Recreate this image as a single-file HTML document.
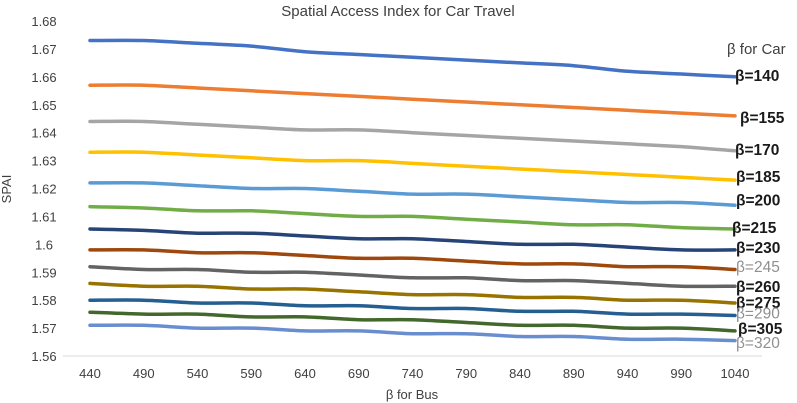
<!DOCTYPE html>
<html><head><meta charset="utf-8"><style>
html,body{margin:0;padding:0;background:#fff;}
svg{display:block;font-family:"Liberation Sans",sans-serif;}
</style></head><body>
<svg id="chart" width="797" height="403">
<text x="398" y="16" text-anchor="middle" font-size="15" fill="#404040">Spatial Access Index for Car Travel</text>
<text transform="translate(11,189) rotate(-90)" text-anchor="middle" font-size="13" fill="#404040">SPAI</text>
<text x="412" y="399" text-anchor="middle" font-size="13" fill="#404040">β for Bus</text>
<text x="727" y="54" font-size="15" fill="#404040">β for Car</text>
<g id="plot"></g>
</svg>
<script>
const categories=[440,490,540,590,640,690,740,790,840,890,940,990,1040];
const yTicks=[1.56,1.57,1.58,1.59,1.6,1.61,1.62,1.63,1.64,1.65,1.66,1.67,1.68];
const seriesNames=["β=140","β=155","β=170","β=185","β=200","β=215","β=230","β=245","β=260","β=275","β=290","β=305","β=320"];
const s140=[1.673,1.673,1.672,1.671,1.669,1.668,1.667,1.666,1.665,1.664,1.662,1.661,1.660];
const s155=[1.657,1.657,1.656,1.655,1.654,1.653,1.652,1.651,1.650,1.649,1.648,1.647,1.646];
const s170=[1.644,1.644,1.643,1.642,1.641,1.641,1.640,1.639,1.638,1.637,1.636,1.635,1.6335];
const s185=[1.633,1.633,1.632,1.631,1.630,1.630,1.629,1.628,1.627,1.626,1.625,1.624,1.623];
const s200=[1.622,1.622,1.621,1.620,1.620,1.619,1.618,1.618,1.617,1.616,1.615,1.615,1.614];
const s215=[1.6135,1.613,1.612,1.612,1.611,1.610,1.610,1.609,1.608,1.607,1.607,1.606,1.6055];
const s230=[1.6055,1.605,1.604,1.604,1.603,1.602,1.602,1.601,1.600,1.600,1.599,1.598,1.598];
const s245=[1.598,1.598,1.597,1.597,1.596,1.595,1.595,1.594,1.593,1.593,1.592,1.592,1.591];
const s260=[1.592,1.591,1.591,1.590,1.590,1.589,1.588,1.588,1.587,1.587,1.586,1.585,1.585];
const s275=[1.586,1.585,1.585,1.584,1.584,1.583,1.582,1.582,1.581,1.581,1.580,1.580,1.579];
const s290=[1.580,1.580,1.579,1.579,1.578,1.578,1.577,1.577,1.576,1.576,1.575,1.575,1.5745];
const s305=[1.5757,1.575,1.575,1.574,1.574,1.573,1.573,1.572,1.571,1.571,1.570,1.570,1.569];
const s320=[1.571,1.571,1.570,1.570,1.569,1.569,1.568,1.568,1.567,1.567,1.566,1.566,1.5655];
const allSeries=[s140,s155,s170,s185,s200,s215,s230,s245,s260,s275,s290,s305,s320];
const colors=["#4472C4","#ED7D31","#A5A5A5","#FFC000","#5B9BD5","#70AD47","#264478","#9E480E","#636363","#997300","#255E91","#43682B","#698ED0"];
const labelDy=[-2,1,-2,-4,-6,-2,-3,-3.5,0,-1,-3,-3,1.5];
const labelDx=[0,5,0,1,1,-3,1,1,1,1,1,3,1];
const boldLabel=[1,1,1,1,1,1,1,0,1,1,0,1,0];
const NS="http://www.w3.org/2000/svg";
const g=document.getElementById('plot');
const x0=90,x1=735,yTop=21,yBot=356,ymin=1.56,ymax=1.68;
function xs(i){return x0+(x1-x0)*i/(categories.length-1);}
function ys(v){return yBot-(v-ymin)/(ymax-ymin)*(yBot-yTop);}
function mk(t,a){const e=document.createElementNS(NS,t);for(const k in a)e.setAttribute(k,a[k]);g.appendChild(e);return e;}
function smooth(pts){let d='M'+pts[0][0].toFixed(1)+','+pts[0][1].toFixed(1);
 for(let i=0;i<pts.length-1;i++){const p0=pts[Math.max(0,i-1)],p1=pts[i],p2=pts[i+1],p3=pts[Math.min(pts.length-1,i+2)];
  const c1=[p1[0]+(p2[0]-p0[0])/6,p1[1]+(p2[1]-p0[1])/6],c2=[p2[0]-(p3[0]-p1[0])/6,p2[1]-(p3[1]-p1[1])/6];
  d+='C'+c1[0].toFixed(1)+','+c1[1].toFixed(1)+' '+c2[0].toFixed(1)+','+c2[1].toFixed(1)+' '+p2[0].toFixed(1)+','+p2[1].toFixed(1);}
 return d;}
const ax=mk('line',{x1:63,x2:762,y1:yBot,y2:yBot,stroke:'#d9d9d9','stroke-width':1});


yTicks.forEach(v=>{const t=mk('text',{x:44,y:ys(v)+5,'text-anchor':'middle','font-size':13,fill:'#404040'});t.textContent=String(v);

});
categories.forEach((c,i)=>{const t=mk('text',{x:xs(i),y:378,'text-anchor':'middle','font-size':13,fill:'#404040'});t.textContent=c;

});
allSeries.forEach((s,k)=>{
 const pts=s.map((v,i)=>[xs(i),ys(v)]);
 const p=mk('path',{d:smooth(pts),fill:'none',stroke:colors[k],'stroke-width':3.5,'stroke-linejoin':'round','stroke-linecap':'round'});
 
 
 const t=mk('text',{x:xs(s.length-1)+labelDx[k],y:ys(s[s.length-1])+6+labelDy[k],'font-size':15.5,'font-weight':boldLabel[k]?'bold':'normal',fill:boldLabel[k]?'#1a1a1a':'#909090'});
 t.textContent=seriesNames[k];
 
 
});
</script>
</body></html>
